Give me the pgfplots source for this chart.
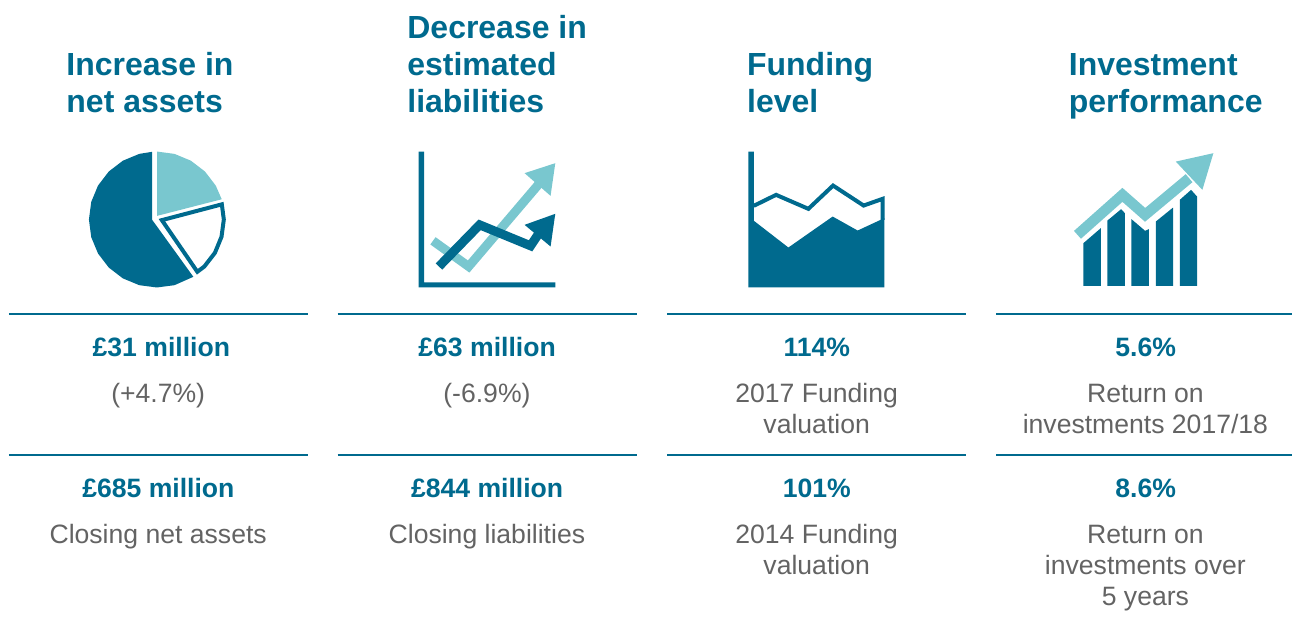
\documentclass[border=0pt]{standalone}
\usepackage{fontspec}
\setmainfont{Liberation Sans}
\usepackage{pgfplots}
\pgfplotsset{compat=1.18}
\definecolor{Dark}{HTML}{006A8E}
\definecolor{Light}{HTML}{79C7CF}
\definecolor{Body}{HTML}{636363}
\newcommand{\headfont}{\fontsize{32}{37}\selectfont\bfseries}
\newcommand{\bodyfont}{\fontsize{26.6}{31}\selectfont}
\newcommand{\valfont}{\fontsize{26.6}{31}\selectfont\bfseries}
\tikzset{
  head/.style={font=\headfont,text=Dark,anchor=base west,inner sep=0pt},
  val/.style={font=\valfont,text=Dark,anchor=base,inner sep=0pt},
  txt/.style={font=\bodyfont,text=Body,anchor=base,inner sep=0pt},
}
\begin{document}
\begin{tikzpicture}
\begin{axis}[
  scale only axis, width=1293pt, height=630pt,
  xmin=0, xmax=1293, ymin=0, ymax=630,
  y dir=reverse, hide axis, clip=false,
]
% keeps the page at the full frame, the hidden axis does not
\addplot[draw=none] coordinates {(0,0) (1293,630)};

% rules
\addplot[Dark,line width=2pt] coordinates {(9,314) (308,314)};
\addplot[Dark,line width=2pt] coordinates {(338,314) (637,314)};
\addplot[Dark,line width=2pt] coordinates {(668,314) (967,314)};
\addplot[Dark,line width=2pt] coordinates {(997,314) (1293,314)};
\addplot[Dark,line width=2pt] coordinates {(9,455) (308,455)};
\addplot[Dark,line width=2pt] coordinates {(338,455) (637,455)};
\addplot[Dark,line width=2pt] coordinates {(668,455) (967,455)};
\addplot[Dark,line width=2pt] coordinates {(997,455) (1293,455)};

% pie
\addplot[fill=Dark,draw=none] coordinates {(152.3,220) (152.3,151.9) (139.4,154) (123,160.8) (108.9,171.6) (98.1,185.7) (91.3,202.1) (89,219.7) (91.3,237.3) (98.1,253.7) (108.9,267.8) (123,278.6) (139.4,285.4) (157,287.7) (174.6,285.4) (193.5,277)} --cycle;
\addplot[fill=Light,draw=none] coordinates {(157.3,216) (157.3,151.7) (174.6,154) (191,160.8) (205.1,171.6) (215.9,185.7) (221.9,199.4)} --cycle;
\addplot[fill=white,draw=Dark,line width=4pt,line join=miter] coordinates {(162,220.3) (222,204.5) (224,219.7) (221.7,236.9) (215.1,253) (204.5,266.7) (197.5,272)} --cycle;

% line icon
\addplot[fill=Dark,draw=none] coordinates {(419,151.7) (424.5,151.7) (424.5,282.5) (555.7,282.5) (555.7,287.7) (419,287.7)} --cycle;
\addplot[Light,line width=9pt,line join=miter] coordinates {(433.3,241) (469,266.7) (540,183.3)};
\addplot[fill=Light,draw=none] coordinates {(555.7,163.3) (525,173.3) (551,196)} --cycle;
\addplot[Dark,line width=9pt,line join=miter] coordinates {(439.3,266.7) (480,225) (531,246) (538.3,235)};
\addplot[fill=Dark,draw=none] coordinates {(555.7,214) (525,225) (551,246.7)} --cycle;

% area icon
\addplot[fill=Dark,draw=none] coordinates {(749,151.7) (754.5,151.7) (754.5,221) (789,247.7) (833.3,216.7) (858.3,230.7) (885,218.3) (885,287.7) (749,287.7)} --cycle;
\addplot[Dark,line width=4pt,line join=miter] coordinates {(754.3,206) (776.7,195) (809,209) (833.7,185.7) (864.3,205.7) (883.3,199) (883.3,220)};

% bar icon
\addplot[fill=Dark,draw=none] coordinates {(1084.3,286) (1084.3,243.3) (1101.7,228.3) (1101.7,286)} --cycle;
\addplot[fill=Dark,draw=none] coordinates {(1108.3,286) (1108.3,220.7) (1122,209.3) (1125.7,213.3) (1125.7,286)} --cycle;
\addplot[fill=Dark,draw=none] coordinates {(1132.3,286) (1132.3,219.3) (1146,231) (1149.7,229.3) (1149.7,286)} --cycle;
\addplot[fill=Dark,draw=none] coordinates {(1156.7,286) (1156.7,221.7) (1174,207.7) (1174,286)} --cycle;
\addplot[fill=Dark,draw=none] coordinates {(1180.7,286) (1180.7,200) (1192,190) (1198,196.7) (1198,286)} --cycle;
\addplot[Light,line width=10.5pt,line join=miter] coordinates {(1078.3,235) (1123.3,195) (1146,215) (1190,178.3)};
\addplot[fill=Light,draw=none] coordinates {(1214.3,153.3) (1176.7,161.7) (1203.3,190)} --cycle;

% headings
\node[head] at (axis cs:66.3,76) {Increase in};
\node[head] at (axis cs:66.3,113) {net assets};
\node[head] at (axis cs:407.5,39) {Decrease in};
\node[head] at (axis cs:407.5,76) {estimated};
\node[head] at (axis cs:407.5,113) {liabilities};
\node[head] at (axis cs:747.5,76) {Funding};
\node[head] at (axis cs:747.5,113) {level};
\node[head] at (axis cs:1069.5,76) {Investment};
\node[head] at (axis cs:1069.5,113) {performance};

% values
\node[val] at (axis cs:161.5,357) {£31 million};
\node[val] at (axis cs:487.5,357) {£63 million};
\node[val] at (axis cs:817.5,357) {114\%};
\node[val] at (axis cs:1146.5,357) {5.6\%};
\node[val] at (axis cs:158.5,498) {£685 million};
\node[val] at (axis cs:487.5,498) {£844 million};
\node[val] at (axis cs:817.5,498) {101\%};
\node[val] at (axis cs:1146.5,498) {8.6\%};

% captions
\node[txt] at (axis cs:158.3,403) {(+4.7\%)};
\node[txt] at (axis cs:487.3,403) {(-6.9\%)};
\node[txt] at (axis cs:817.3,403) {2017 Funding};
\node[txt] at (axis cs:817.3,434) {valuation};
\node[txt] at (axis cs:1146.3,403) {Return on};
\node[txt] at (axis cs:1146.3,434) {investments 2017/18};
\node[txt] at (axis cs:158.3,544) {Closing net assets};
\node[txt] at (axis cs:487.3,544) {Closing liabilities};
\node[txt] at (axis cs:817.3,544) {2014 Funding};
\node[txt] at (axis cs:817.3,575) {valuation};
\node[txt] at (axis cs:1146.3,544) {Return on};
\node[txt] at (axis cs:1146.3,575) {investments over};
\node[txt] at (axis cs:1146.3,606) {5 years};
\end{axis}
\end{tikzpicture}
\end{document}
